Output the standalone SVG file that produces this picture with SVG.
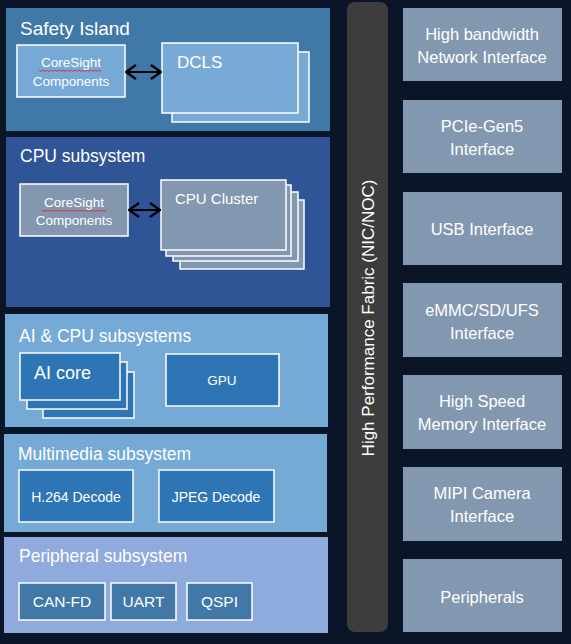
<svg xmlns="http://www.w3.org/2000/svg" width="571" height="644" viewBox="0 0 571 644">
<style>
text{font-family:"Liberation Sans",Arial,sans-serif;fill:#ffffff}
.title{font-size:17.5px}
.inner{stroke:#ffffff;stroke-width:1.5}
.iface{fill:#8497b0}
.iface-t{font-size:16.5px;text-anchor:middle}
.mid{text-anchor:middle}
.conn{stroke:#000000;stroke-width:2;fill:none}
.squig{stroke:#e02828;stroke-width:0.9;fill:none}
</style>
<defs>
<marker id="ah" viewBox="0 0 12 16" refX="11" refY="8" markerWidth="12" markerHeight="16" markerUnits="userSpaceOnUse" orient="auto-start-reverse">
<path d="M1,1 L11,8 L1,15" fill="none" stroke="#000000" stroke-width="2.2"/>
</marker>
</defs>
<rect x="0" y="0" width="571" height="644" fill="#0a1628"/>

<g id="safety-island">
<rect x="6" y="8" width="324" height="123" fill="#4078a8"/>
<text x="20" y="35" style="font-size:19px">Safety Island</text>
</g>
<g id="safety-coresight">
<rect x="17" y="45" width="108" height="52" fill="#77a9d6" class="inner"/>
<text x="71" y="67" class="mid" style="font-size:13.5px">CoreSight</text>
<path class="squig" d="M39,70 l2,1.5 l2,-1.5 l2,1.5 l2,-1.5 l2,1.5 l2,-1.5 l2,1.5 l2,-1.5 l2,1.5 l2,-1.5 l2,1.5 l2,-1.5 l2,1.5 l2,-1.5 l2,1.5 l2,-1.5 l2,1.5 l2,-1.5 l2,1.5 l2,-1.5 l2,1.5 l2,-1.5 l2,1.5 l2,-1.5 l2,1.5 l2,-1.5 l2,1.5 l2,-1.5 l2,1.5 l2,-1.5 l2,1.5"/>
<text x="71" y="86" class="mid" style="font-size:13.5px">Components</text>
</g>
<g id="dcls">
<rect x="172" y="52" width="137" height="70" fill="#79aad6" class="inner"/>
<rect x="162" y="43" width="136" height="70" fill="#79aad6" class="inner"/>
<text x="177" y="68" style="font-size:17px">DCLS</text>
</g>

<g id="cpu-subsystem">
<rect x="6" y="137" width="324" height="170" fill="#2f5597"/>
<text x="20" y="162" class="title">CPU subsystem</text>
</g>
<g id="cpu-coresight">
<rect x="20" y="184" width="108" height="52" fill="#8497b0" class="inner"/>
<text x="74" y="207" class="mid" style="font-size:13.5px">CoreSight</text>
<path class="squig" d="M42,210 l2,1.5 l2,-1.5 l2,1.5 l2,-1.5 l2,1.5 l2,-1.5 l2,1.5 l2,-1.5 l2,1.5 l2,-1.5 l2,1.5 l2,-1.5 l2,1.5 l2,-1.5 l2,1.5 l2,-1.5 l2,1.5 l2,-1.5 l2,1.5 l2,-1.5 l2,1.5 l2,-1.5 l2,1.5 l2,-1.5 l2,1.5 l2,-1.5 l2,1.5 l2,-1.5 l2,1.5 l2,-1.5 l2,1.5 l2,-1.5"/>
<text x="74" y="225" class="mid" style="font-size:13.5px">Components</text>
</g>
<g id="cpu-cluster">
<rect x="180" y="200" width="124" height="69" fill="#8497b0" class="inner"/>
<rect x="173" y="192" width="125" height="69" fill="#8497b0" class="inner"/>
<rect x="166" y="185" width="125" height="71" fill="#8497b0" class="inner"/>
<rect x="161" y="180" width="125" height="70" fill="#8497b0" class="inner"/>
<text x="175" y="204" style="font-size:15px">CPU Cluster</text>
</g>

<g id="ai-cpu-subsystems">
<rect x="5" y="314" width="323" height="113" fill="#75a9d6"/>
<text x="19" y="342" class="title">AI &amp; CPU subsystems</text>
</g>
<g id="ai-core">
<rect x="43" y="372" width="91" height="46" fill="#2e75b6" class="inner"/>
<rect x="27" y="362" width="100" height="47" fill="#2e75b6" class="inner"/>
<rect x="20" y="353" width="100" height="47" fill="#2e75b6" class="inner"/>
<text x="34" y="379" style="font-size:18px">AI core</text>
</g>
<g id="gpu">
<rect x="166" y="354" width="113" height="52" fill="#2e75b6" class="inner"/>
<text x="222" y="385" class="mid" style="font-size:13.5px">GPU</text>
</g>

<g id="multimedia-subsystem">
<rect x="4" y="434" width="323" height="98" fill="#75a9d6"/>
<text x="18" y="460" class="title">Multimedia subsystem</text>
</g>
<g id="h264-decode">
<rect x="19" y="470" width="114" height="52" fill="#2e75b6" class="inner"/>
<text x="76" y="502" class="mid" style="font-size:14px">H.264 Decode</text>
</g>
<g id="jpeg-decode">
<rect x="159" y="470" width="115" height="52" fill="#2e75b6" class="inner"/>
<text x="216" y="502" class="mid" style="font-size:14px">JPEG Decode</text>
</g>

<g id="peripheral-subsystem">
<rect x="4" y="537" width="324" height="96" fill="#8faadc"/>
<text x="19" y="562" class="title">Peripheral subsystem</text>
</g>
<g id="can-fd">
<rect x="19" y="583" width="86" height="37" fill="#4278a8" class="inner"/>
<text x="62" y="607" class="mid" style="font-size:15.5px">CAN-FD</text>
</g>
<g id="uart">
<rect x="111" y="583" width="65" height="37" fill="#4278a8" class="inner"/>
<text x="143.5" y="607" class="mid" style="font-size:15.5px">UART</text>
</g>
<g id="qspi">
<rect x="187" y="583" width="65" height="37" fill="#4278a8" class="inner"/>
<text x="219.5" y="607" class="mid" style="font-size:15.5px">QSPI</text>
</g>

<g id="fabric">
<rect x="347" y="2" width="41" height="630" rx="8" ry="8" fill="#3d3d3d"/>
<text x="374" y="318" class="mid" style="font-size:17px" transform="rotate(-90 374 318)">High Performance Fabric (NIC/NOC)</text>
</g>

<g id="network-if">
<rect x="403" y="8" width="159" height="73" class="iface"/>
<text x="482" y="40" class="iface-t">High bandwidth</text>
<text x="482" y="63" class="iface-t">Network Interface</text>
</g>
<g id="pcie-if">
<rect x="403" y="100" width="159" height="73" class="iface"/>
<text x="482" y="132" class="iface-t">PCIe-Gen5</text>
<text x="482" y="155" class="iface-t">Interface</text>
</g>
<g id="usb-if">
<rect x="403" y="192" width="159" height="73" class="iface"/>
<text x="482" y="235" class="iface-t">USB Interface</text>
</g>
<g id="emmc-if">
<rect x="403" y="283" width="159" height="74" class="iface"/>
<text x="482" y="316" class="iface-t">eMMC/SD/UFS</text>
<text x="482" y="339" class="iface-t">Interface</text>
</g>
<g id="memory-if">
<rect x="403" y="375" width="159" height="74" class="iface"/>
<text x="482" y="407" class="iface-t">High Speed</text>
<text x="482" y="430" class="iface-t">Memory Interface</text>
</g>
<g id="mipi-if">
<rect x="403" y="467" width="159" height="74" class="iface"/>
<text x="482" y="499" class="iface-t">MIPI Camera</text>
<text x="482" y="522" class="iface-t">Interface</text>
</g>
<g id="peripherals">
<rect x="403" y="559" width="159" height="73" class="iface"/>
<text x="482" y="603" class="iface-t">Peripherals</text>
</g>

<g id="connectors">
<line class="conn" x1="126" y1="72" x2="161" y2="72" marker-start="url(#ah)" marker-end="url(#ah)"/>
<line class="conn" x1="129" y1="210" x2="160" y2="210" marker-start="url(#ah)" marker-end="url(#ah)"/>
</g>
</svg>
